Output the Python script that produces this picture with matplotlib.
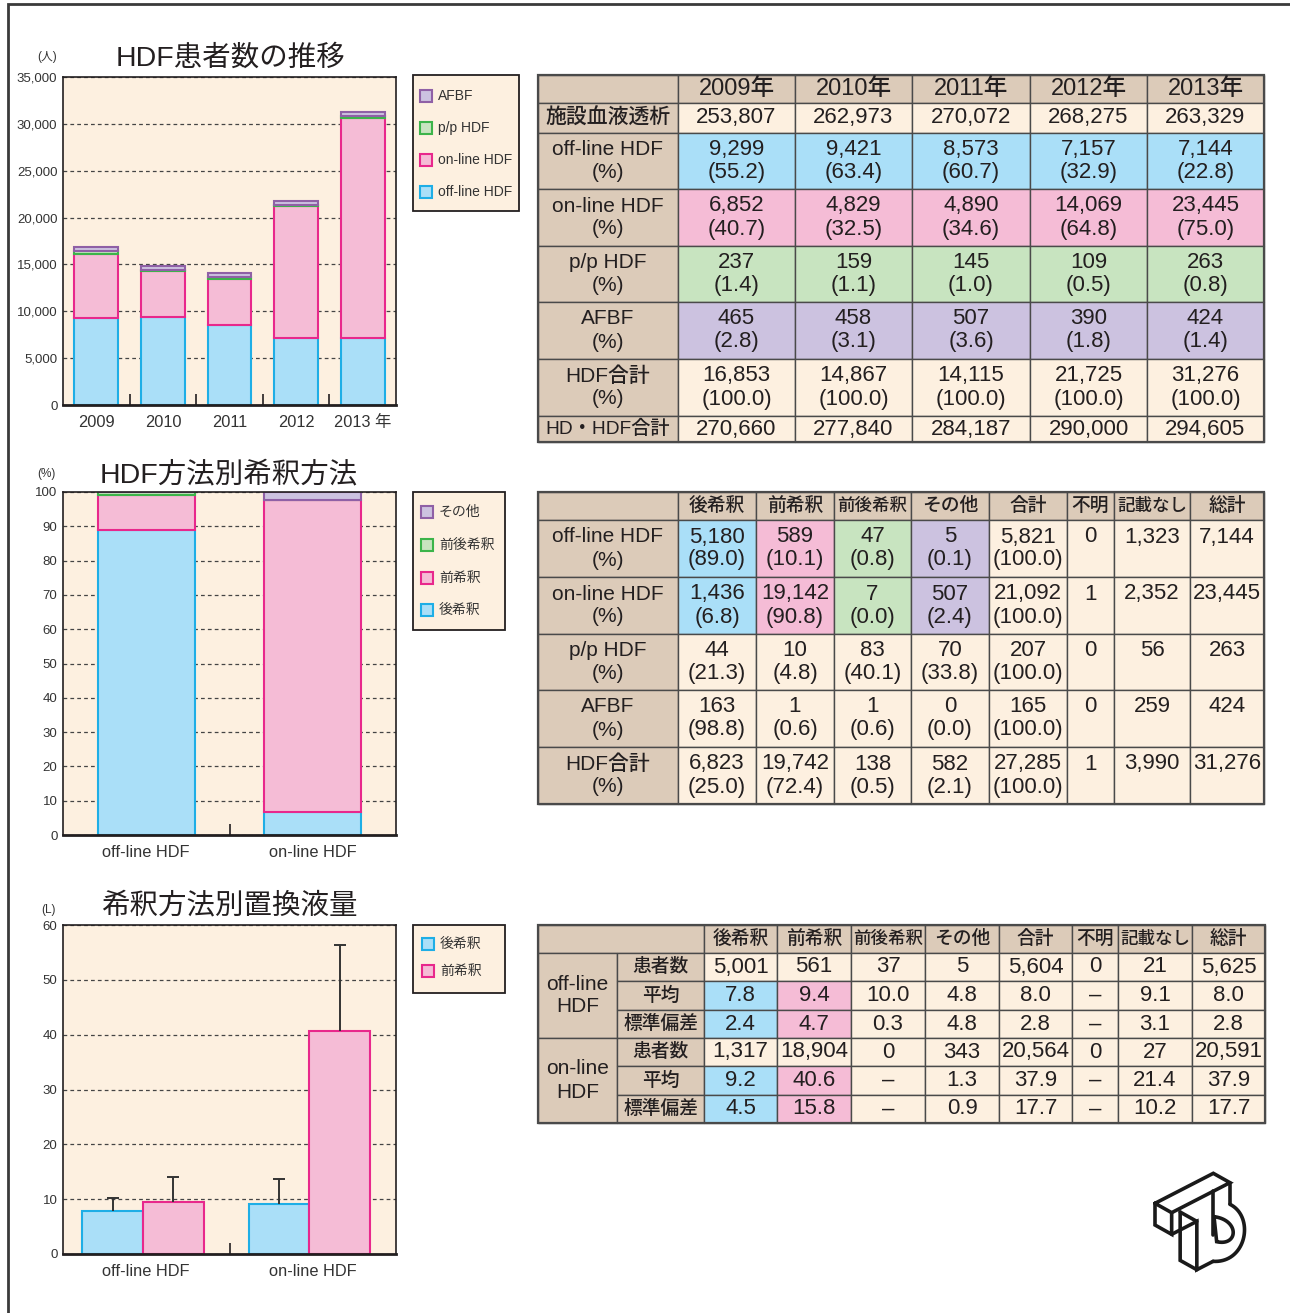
import matplotlib
matplotlib.use("Agg")
import matplotlib.pyplot as plt
from matplotlib.patches import Rectangle
import numpy as np

plt.rcParams["font.family"] = ["Liberation Sans", "Noto Sans CJK JP", "DejaVu Sans"]
plt.rcParams["axes.unicode_minus"] = False

# ---- data: HDF患者数の推移 ----
years = ["2009", "2010", "2011", "2012", "2013"]
facility_hd = [253807, 262973, 270072, 268275, 263329]
offline_n = [9299, 9421, 8573, 7157, 7144]
offline_pct = [55.2, 63.4, 60.7, 32.9, 22.8]
online_n = [6852, 4829, 4890, 14069, 23445]
online_pct = [40.7, 32.5, 34.6, 64.8, 75.0]
pp_n = [237, 159, 145, 109, 263]
pp_pct = [1.4, 1.1, 1.0, 0.5, 0.8]
afbf_n = [465, 458, 507, 390, 424]
afbf_pct = [2.8, 3.1, 3.6, 1.8, 1.4]
hdf_total = [16853, 14867, 14115, 21725, 31276]
hdf_total_pct = [100.0, 100.0, 100.0, 100.0, 100.0]
hd_hdf_total = [270660, 277840, 284187, 290000, 294605]

# ---- data: HDF方法別希釈方法 ----
dil_methods = ["後希釈", "前希釈", "前後希釈", "その他"]
extra_cols = ["合計", "不明", "記載なし", "総計"]
hdf_types = ["off-line HDF", "on-line HDF", "p/p HDF", "AFBF", "HDF合計"]
dil_n = [[5180, 589, 47, 5, 5821],
         [1436, 19142, 7, 507, 21092],
         [44, 10, 83, 70, 207],
         [163, 1, 1, 0, 165],
         [6823, 19742, 138, 582, 27285]]
dil_pct = [[89.0, 10.1, 0.8, 0.1, 100.0],
           [6.8, 90.8, 0.0, 2.4, 100.0],
           [21.3, 4.8, 40.1, 33.8, 100.0],
           [98.8, 0.6, 0.6, 0.0, 100.0],
           [25.0, 72.4, 0.5, 2.1, 100.0]]
dil_unknown = [0, 1, 0, 0, 1]
dil_none = [1323, 2352, 56, 259, 3990]
dil_grand = [7144, 23445, 263, 424, 31276]

# ---- data: 希釈方法別置換液量 ----
vol_groups = ["off-line\nHDF", "on-line\nHDF"]
vol_stats = ["患者数", "平均", "標準偏差"]
off_vol_n = [5001, 561, 37, 5, 5604, 0, 21, 5625]
off_vol_mean = [7.8, 9.4, 10.0, 4.8, 8.0, None, 9.1, 8.0]
off_vol_sd = [2.4, 4.7, 0.3, 4.8, 2.8, None, 3.1, 2.8]
on_vol_n = [1317, 18904, 0, 343, 20564, 0, 27, 20591]
on_vol_mean = [9.2, 40.6, None, 1.3, 37.9, None, 21.4, 37.9]
on_vol_sd = [4.5, 15.8, None, 0.9, 17.7, None, 10.2, 17.7]

# ---- colours ----
BLUE, BLUE_E = "#aadff8", "#1eaee6"
PINK, PINK_E = "#f5bcd6", "#e8288c"
GREEN, GREEN_E = "#c8e4c0", "#3cb44a"
PURPLE, PURPLE_E = "#ccc2e0", "#8f60a6"
CREAM = "#fdf0e0"
TAN = "#dccbb9"
INK = "#231f20"
LINE = "#4a4a4a"

W, H = 1290, 1313
fig = plt.figure(figsize=(W / 100, H / 100), dpi=100)
bg = fig.add_axes([0, 0, 1, 1])
bg.set_xlim(0, W)
bg.set_ylim(H, 0)
bg.axis("off")


def px_axes(l, t, r, b):
    return fig.add_axes([l / W, 1 - b / H, (r - l) / W, (b - t) / H])


def style_chart(ax, ymax, ystep, ncat, fmt=str):
    ax.set_facecolor(CREAM)
    ax.set_xlim(-0.5, ncat - 0.5)
    ax.set_ylim(0, ymax)
    ticks = list(range(0, ymax + 1, ystep))
    ax.set_yticks(ticks)
    ax.set_yticklabels([fmt(t) for t in ticks], fontsize=9.5, color="#333333")
    ax.tick_params(axis="y", length=0, pad=4)
    ax.tick_params(axis="x", which="major", length=0, pad=7, labelsize=11.8, labelcolor="#333333")
    ax.set_xticks(np.arange(0.5, ncat - 1), minor=True)
    ax.tick_params(axis="x", which="minor", direction="in", length=8, width=1.2, color=INK)
    ax.yaxis.grid(True, linestyle=(0, (3, 2.5)), color="#444444", lw=0.9)
    ax.set_axisbelow(True)
    for s in ax.spines.values():
        s.set_color(INK)
        s.set_linewidth(1.2)
    ax.spines["bottom"].set_linewidth(2)


def draw_legend(box, entries, sq_x, txt_x):
    x0, y0, x1, y1 = box
    bg.add_patch(Rectangle((x0, y0), x1 - x0, y1 - y0, facecolor=CREAM, edgecolor=INK, lw=1.3, zorder=2))
    for yc, lab, fc, ec in entries:
        bg.add_patch(Rectangle((sq_x, yc - 6), 12, 12, facecolor=fc, edgecolor=ec, lw=1.5, zorder=3))
        bg.text(txt_x, yc, lab, ha="left", va="center", fontsize=10, color="#333333", zorder=3)


# ---- chart 1 ----
ax1 = px_axes(63, 77, 396, 405)
x = np.arange(len(years))
bottom = np.zeros(len(years))
series1 = [(offline_n, BLUE, BLUE_E, "off-line HDF"),
           (online_n, PINK, PINK_E, "on-line HDF"),
           (pp_n, GREEN, GREEN_E, "p/p HDF"),
           (afbf_n, PURPLE, PURPLE_E, "AFBF")]
for vals, fc, ec, lab in series1:
    ax1.bar(x, vals, 0.66, bottom=bottom, color=fc, edgecolor=ec, lw=1.5, label=lab)
    bottom += np.array(vals)
style_chart(ax1, 35000, 5000, len(years), fmt=lambda v: f"{v:,}")
ax1.set_xticks(x)
ax1.set_xticklabels(years[:-1] + [years[-1] + " 年"])
draw_legend((413, 75, 519, 211),
            [(yc, s[3], s[1], s[2]) for yc, s in zip([96, 128, 160, 192], series1[::-1])],
            420, 438)

# ---- chart 2 ----
ax2 = px_axes(63, 492, 396, 835)
x2 = np.arange(2)
bottom = np.zeros(2)
dil_style = [(BLUE, BLUE_E), (PINK, PINK_E), (GREEN, GREEN_E), (PURPLE, PURPLE_E)]
for j, (fc, ec) in enumerate(dil_style):
    vals = np.array([dil_pct[0][j], dil_pct[1][j]])
    ax2.bar(x2, vals, 0.58, bottom=bottom, color=fc, edgecolor=ec, lw=1.5, label=dil_methods[j])
    bottom += vals
style_chart(ax2, 100, 10, 2)
ax2.set_xticks(x2)
ax2.set_xticklabels(hdf_types[:2])
draw_legend((413, 492, 505, 630),
            [(yc, dil_methods[j], dil_style[j][0], dil_style[j][1])
             for yc, j in zip([512, 545, 578, 610], [3, 2, 1, 0])],
            421, 439)

# ---- chart 3 ----
ax3 = px_axes(63, 925, 396, 1254)
w = 0.365
for k, (fc, ec) in enumerate(dil_style[:2]):
    means = [off_vol_mean[k], on_vol_mean[k]]
    sds = [off_vol_sd[k], on_vol_sd[k]]
    bc = ax3.bar(x2 + (k - 0.5) * w - 0.02, means, w, color=fc, edgecolor=ec, lw=1.5,
                 yerr=[[0, 0], sds], capsize=4.5, label=dil_methods[k],
                 error_kw=dict(ecolor="#333333", elinewidth=1.4, capthick=1.4))
    bc.errorbar.lines[1][0].set_visible(False)  # keep only the upper cap
style_chart(ax3, 60, 10, 2)
ax3.set_xticks(x2)
ax3.set_xticklabels(hdf_types[:2])
draw_legend((413, 925, 505, 993),
            [(944, dil_methods[0], BLUE, BLUE_E), (971, dil_methods[1], PINK, PINK_E)],
            422, 440)

# ---- titles ----
for cx, cy, s in [(230, 58, "HDF患者数の推移"), (229, 475, "HDF方法別希釈方法"), (229, 906, "希釈方法別置換液量")]:
    bg.text(cx, cy, s, fontsize=20.5, ha="center", va="center", color=INK)
for cx, cy, s in [(47, 57, "(人)"), (46, 474, "(%)"), (48, 910, "(L)")]:
    bg.text(cx, cy, s, fontsize=8.5, ha="center", va="center", color="#333333")

# page frame
bg.plot([8, 8, W], [H, 4, 4], color="#3a3a3a", lw=2, solid_joinstyle="miter")

# ---- tables ----
VFS = 16


def cell(x0, y0, x1, y1, fc, lines=(), fs=VFS, gap=23, weight="normal", top_align=False):
    bg.add_patch(Rectangle((x0, y0), x1 - x0, y1 - y0, facecolor=fc, edgecolor=LINE, lw=1.0))
    n = len(lines)
    cy = (y0 + y1) / 2
    for k, s in enumerate(lines):
        y = cy - gap / 2 if top_align else cy + (k - (n - 1) / 2) * gap
        bg.text((x0 + x1) / 2, y, s, ha="center", va="center", fontsize=fs, weight=weight, color=INK)


def head_fs(s):
    return 13.5 if len(s) < 4 else 12.6


def pct(v):
    return f"({v:.1f})"


def num(v):
    return "–" if v is None else f"{v:,}"


def dec(v):
    return "–" if v is None else f"{v:.1f}"


def outline(cols, rows):
    bg.add_patch(Rectangle((cols[0], rows[0]), cols[-1] - cols[0], rows[-1] - rows[0],
                           fill=False, edgecolor=LINE, lw=1.6))


# table 1
c1 = [538, 678, 795, 912, 1030, 1147, 1264]
r1 = [75, 103, 133, 189, 246, 302, 359, 416, 442]
cell(c1[0], r1[0], c1[1], r1[1], TAN)
for i, yv in enumerate(years):
    cell(c1[i + 1], r1[0], c1[i + 2], r1[1], TAN, [yv + "年"], fs=17, weight="medium")
rows_t1 = [("施設血液透析", None, facility_hd, None),
           ("off-line HDF", BLUE, offline_n, offline_pct),
           ("on-line HDF", PINK, online_n, online_pct),
           ("p/p HDF", GREEN, pp_n, pp_pct),
           ("AFBF", PURPLE, afbf_n, afbf_pct),
           ("HDF合計", None, hdf_total, hdf_total_pct),
           ("HD・HDF合計", None, hd_hdf_total, None)]
for ri, (lab, col, ns, ps) in enumerate(rows_t1):
    y0, y1 = r1[ri + 1], r1[ri + 2]
    cell(c1[0], y0, c1[1], y1, TAN, [lab] if ps is None else [lab, "(%)"],
         fs=13.8 if "・" in lab else 15, weight="medium")
    for i in range(len(years)):
        lines = [num(ns[i])] if ps is None else [num(ns[i]), pct(ps[i])]
        cell(c1[i + 1], y0, c1[i + 2], y1, col or CREAM, lines)
outline(c1, r1)

# table 2
c2 = [538, 678, 756, 834, 911, 989, 1067, 1114, 1190, 1264]
r2 = [492, 520, 577, 634, 690, 747, 804]
cell(c2[0], r2[0], c2[1], r2[1], TAN)
for i, h in enumerate(dil_methods + extra_cols):
    cell(c2[i + 1], r2[0], c2[i + 2], r2[1], TAN, [h], fs=head_fs(h), weight="medium")
for ri, lab in enumerate(hdf_types):
    y0, y1 = r2[ri + 1], r2[ri + 2]
    cell(c2[0], y0, c2[1], y1, TAN, [lab, "(%)"], fs=15, weight="medium")
    for i in range(5):
        fc = dil_style[i][0] if (ri < 2 and i < 4) else CREAM
        cell(c2[i + 1], y0, c2[i + 2], y1, fc, [num(dil_n[ri][i]), pct(dil_pct[ri][i])])
    for i, v in enumerate([dil_unknown[ri], dil_none[ri], dil_grand[ri]]):
        cell(c2[i + 6], y0, c2[i + 7], y1, CREAM, [num(v)], top_align=True)
outline(c2, r2)

# table 3
c3 = [538, 617, 704, 777, 851, 925, 999, 1072, 1118, 1192, 1265]
r3 = [925, 953, 981, 1010, 1038, 1066, 1095, 1123]
cell(c3[0], r3[0], c3[2], r3[1], TAN)
for i, h in enumerate(dil_methods + extra_cols):
    cell(c3[i + 2], r3[0], c3[i + 3], r3[1], TAN, [h], fs=head_fs(h), weight="medium")
for g, (gname, ns, ms, ss) in enumerate([(vol_groups[0], off_vol_n, off_vol_mean, off_vol_sd),
                                          (vol_groups[1], on_vol_n, on_vol_mean, on_vol_sd)]):
    cell(c3[0], r3[1 + 3 * g], c3[1], r3[4 + 3 * g], TAN, gname.split("\n"), fs=15, weight="medium")
    for si, (vals, fmt) in enumerate([(ns, num), (ms, dec), (ss, dec)]):
        y0, y1 = r3[1 + 3 * g + si], r3[2 + 3 * g + si]
        cell(c3[1], y0, c3[2], y1, TAN, [vol_stats[si]], fs=13.5, weight="medium")
        for i, v in enumerate(vals):
            fc = dil_style[i][0] if (si > 0 and i < 2) else CREAM
            cell(c3[i + 2], y0, c3[i + 3], y1, fc, [fmt(v)])
outline(c3, r3)

# ---- logo (isometric "TD" outline) ----
O = np.array([15.0, 100.0])
EU = np.array([0.888, -0.457])
EV = np.array([50.0, 28.0])
L_BAR, H_BAR, S1, S2, H_STEM = 197, 65, 85, 140, 210
LOGO_KW = dict(color="#1a1a1a", lw=2.6, solid_joinstyle="miter", solid_capstyle="round")


def P(u, t, z):
    p = O + u * EU + t * EV + np.array([0.0, z])
    return (1150 + p[0] / 3, 1170 + p[1] / 3)


def poly(pts, closed=False):
    if closed:
        pts = pts + [pts[0]]
    xs, ys = zip(*pts)
    bg.plot(xs, ys, **LOGO_KW)


def bezier(p0, k1, k2, p1, n=40):
    tt = np.linspace(0, 1, n)[:, None]
    p0, k1, k2, p1 = map(np.array, (p0, k1, k2, p1))
    return (1 - tt) ** 3 * p0 + 3 * (1 - tt) ** 2 * tt * k1 + 3 * (1 - tt) * tt ** 2 * k2 + tt ** 3 * p1


def zpt(zx, zy):
    return (1150 + zx / 3, 1170 + zy / 3)


poly([P(0, 0, 0), P(L_BAR, 0, 0), P(L_BAR, 1, 0), P(0, 1, 0)], closed=True)
poly([P(0, 0, 0), P(0, 0, H_BAR), P(0, 1, H_BAR), P(0, 1, 0)])
poly([P(0, 1, H_BAR), P(S1, 1, H_BAR), P(S1, 1, H_STEM), P(S2, 1, H_STEM)])
poly([P(S1, 0, H_BAR), P(S1, 0, H_STEM), P(S1, 1, H_STEM)])
poly([P(S1, 0, H_BAR), P(S1, 1, H_BAR)])
poly([P(S2, 1, 0), P(S2, 1, 130)])
poly([P(L_BAR, 1, 0), P(L_BAR, 1, H_BAR)])
bowl = bezier(P(L_BAR, 1, H_BAR), zpt(315, 140), zpt(290, 280), P(S2, 1, H_STEM))
bg.plot(bowl[:, 0], bowl[:, 1], **LOGO_KW)
counter = bezier(zpt(192, 140), zpt(270, 150), zpt(265, 230), zpt(200, 215))
bg.plot(list(counter[:, 0]) + [counter[0, 0]], list(counter[:, 1]) + [counter[0, 1]], **LOGO_KW)

fig.savefig("out.png", dpi=100, facecolor="white")
